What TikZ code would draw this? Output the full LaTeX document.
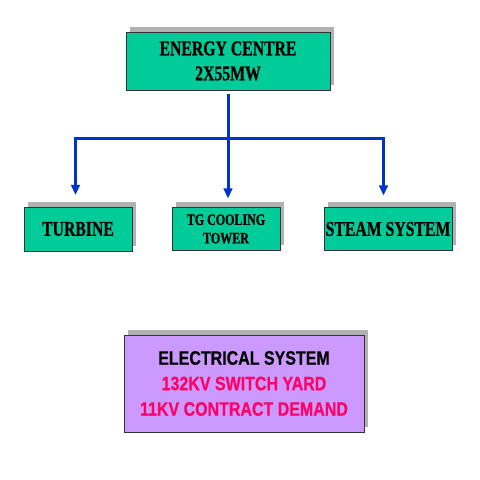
\documentclass[tikz,border=0pt]{standalone}
\usepackage{fontspec}
\usetikzlibrary{positioning,shadows,arrows.meta}
\newfontfamily\boxserif[FakeStretch=0.75,BoldFeatures={FakeBold=0.8}]{Liberation Serif}
\newfontfamily\boxsans[FakeStretch=0.82,BoldFeatures={FakeBold=0.4}]{Liberation Sans}
\definecolor{plantgreen}{RGB}{0,204,153}
\definecolor{elecviolet}{RGB}{204,153,255}
\definecolor{shadowgrey}{RGB}{178,178,178}
\definecolor{wireblue}{RGB}{0,51,204}
\definecolor{loadpink}{RGB}{255,0,102}
\begin{document}
\begin{tikzpicture}[x=1pt,y=1pt,
				block/.style={draw=black!80,line width=.8pt,fill=plantgreen,align=center,inner sep=0pt,outer sep=0pt,
					drop shadow={shadow xshift=4pt,shadow yshift=5pt,fill=shadowgrey,opacity=1}},
				wire/.style={draw=wireblue,line width=3pt},
				tip/.style={-{Triangle[width=8.5pt,length=10pt]}}]
				\useasboundingbox (0,0) rectangle (480,480);
				\node[block,minimum width=204pt,minimum height=58pt,font=\boxserif\bfseries\fontsize{21}{25}\selectfont]
					(ec) at (228,419) {ENERGY CENTRE\\2X55MW};
				\node[block,minimum width=108pt,minimum height=44pt,font=\boxserif\bfseries\fontsize{21}{25}\selectfont]
					(turbine) at (78,251) {TURBINE};
				\node[block,minimum width=108pt,minimum height=43pt,font=\boxserif\bfseries\fontsize{16}{18.5}\selectfont]
					(tgct) [right=40pt of turbine] {TG COOLING\\TOWER};
				\node[block,minimum width=128pt,minimum height=43pt,font=\boxserif\bfseries\fontsize{21}{25}\selectfont]
					(steam) [right=44pt of tgct] {STEAM SYSTEM};
				\node[block,fill=elecviolet,minimum width=240pt,minimum height=97pt,font=\boxsans\bfseries\fontsize{19.5}{25.5}\selectfont]
					(elec) at (244,96.5) {ELECTRICAL SYSTEM\\\textcolor{loadpink}{132KV SWITCH YARD}\\\textcolor{loadpink}{11KV CONTRACT DEMAND}};
				
				\coordinate (bus) at (228,341.5);
				\draw[wire,shorten <=4pt] (ec.south) -- (bus);
				\draw[wire] ([xshift=-4pt]turbine.north |- bus) -- ([xshift=-3pt]steam.north |- bus);
				\foreach \n/\dx/\dy in {turbine/-2.5pt/12pt,tgct/2pt/9pt,steam/-4.5pt/12pt}
					\draw[wire,tip] ([xshift=\dx]\n.north |- bus) -- ([xshift=\dx,yshift=\dy]\n.north);
			\end{tikzpicture}
\end{document}
